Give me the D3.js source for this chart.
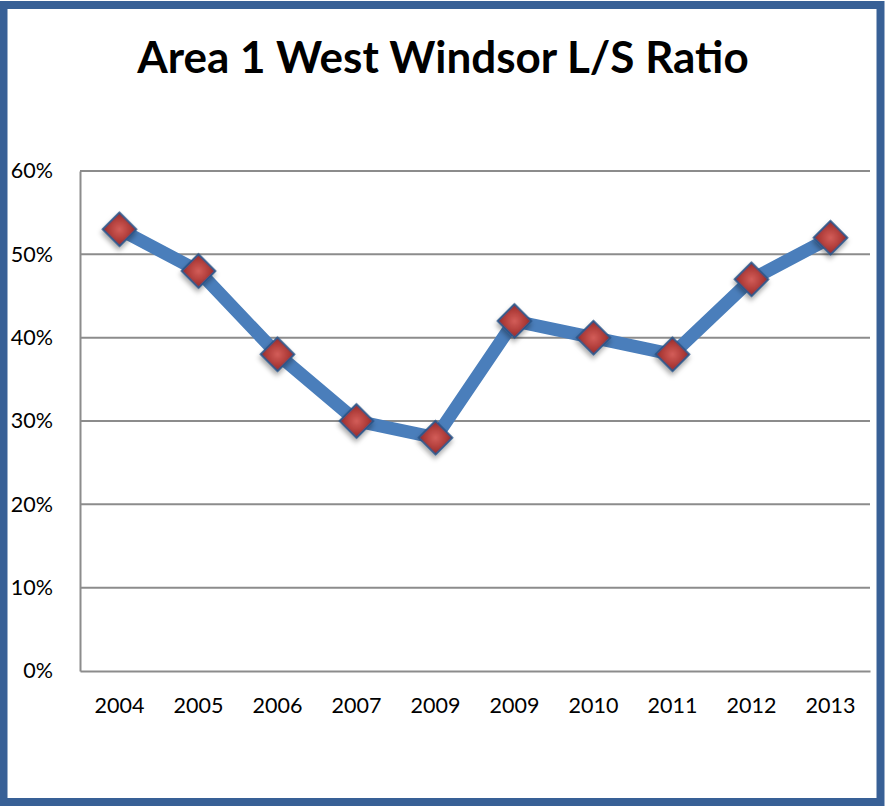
<!DOCTYPE html>
<html>
<head>
<meta charset="utf-8">
<script src="https://d3js.org/d3.v7.min.js"></script>
<style>
  body { margin: 0; background: #fff; }
  svg { display: block; }
</style>
</head>
<body>
<script>
// chart data
var years = ["2004", "2005", "2006", "2007", "2009", "2009", "2010", "2011", "2012", "2013"];
var ratios = [0.53, 0.48, 0.38, 0.30, 0.28, 0.42, 0.40, 0.38, 0.47, 0.52];
var yTicks = [0, 0.1, 0.2, 0.3, 0.4, 0.5, 0.6];
var title = "Area 1 West Windsor L/S Ratio";

var w = 885, h = 806;
var margin = {left: 80, right: 15, top: 171, bottom: 135};

var svg = d3.select("body").append("svg")
    .attr("width", w)
    .attr("height", h);

var defs = svg.append("defs");
var grad = defs.append("radialGradient")
    .attr("id", "mk")
    .attr("cx", "50%").attr("cy", "50%").attr("r", "60%");
grad.append("stop").attr("offset", "0%").attr("stop-color", "#d35d59");
grad.append("stop").attr("offset", "100%").attr("stop-color", "#a3312e");

var shadow = defs.append("filter").attr("id", "sh")
    .attr("x", "-50%").attr("y", "-50%").attr("width", "200%").attr("height", "200%");
shadow.append("feDropShadow")
    .attr("dx", 2).attr("dy", 3).attr("stdDeviation", 2.5)
    .attr("flood-color", "#000").attr("flood-opacity", 0.35);

// outer frame
svg.append("rect")
    .attr("x", 3.5).attr("y", 5).attr("width", w - 8).attr("height", h - 9)
    .attr("fill", "#fff")
    .attr("stroke", "#386096")
    .attr("stroke-width", 8);

svg.append("text")
    .attr("x", 443)
    .attr("y", 73)
    .attr("text-anchor", "middle")
    .attr("font-family", "Lato, 'Open Sans', sans-serif")
    .attr("font-weight", "bold")
    .attr("font-size", "44px")
    .text(title);

var x = d3.scaleBand()
    .domain(d3.range(years.length))
    .range([margin.left, w - margin.right]);

var y = d3.scaleLinear()
    .domain([0, 0.6])
    .range([h - margin.bottom, margin.top]);

var g = svg.append("g");

// gridlines
g.append("g")
    .selectAll("line")
    .data(yTicks.slice(1))
    .enter()
    .append("line")
    .attr("x1", margin.left)
    .attr("x2", w - margin.right)
    .attr("y1", d => y(d))
    .attr("y2", d => y(d))
    .attr("stroke", "#8c8c8c")
    .attr("stroke-width", 2);

// axes
var yAxis = d3.axisLeft(y).tickValues(yTicks).tickFormat(d3.format(".0%")).tickSize(0).tickPadding(27);
var gy = g.append("g").attr("transform", "translate(" + margin.left + ",0)").call(yAxis);
gy.select(".domain").attr("stroke", "#8c8c8c").attr("stroke-width", 2);

var xAxis = d3.axisBottom(x).tickFormat(i => years[i]).tickSize(0).tickPadding(27);
var gx = g.append("g").attr("transform", "translate(0," + y(0) + ")").call(xAxis);
gx.select(".domain").attr("stroke", "#8c8c8c").attr("stroke-width", 2);

svg.selectAll(".tick text")
    .attr("font-family", "Lato, 'Open Sans', sans-serif")
    .attr("font-size", "21.5px")
    .attr("fill", "#000");

// series line
var line = d3.line()
    .x((d, i) => x(i) + x.bandwidth() / 2)
    .y(d => y(d));

g.append("path")
    .datum(ratios)
    .attr("d", line)
    .attr("fill", "none")
    .attr("stroke", "#4a7ebb")
    .attr("stroke-width", 13)
    .attr("stroke-linejoin", "round");

// markers
var sym = d3.symbol().type(d3.symbolSquare).size(560);
g.append("g")
    .selectAll("path")
    .data(ratios)
    .enter()
    .append("path")
    .attr("d", sym)
    .attr("transform", (d, i) => "translate(" + (x(i) + x.bandwidth() / 2) + "," + y(d) + ") rotate(45)")
    .attr("fill", "url(#mk)")
    .attr("stroke", "#2c5587")
    .attr("stroke-width", 2)
    .attr("filter", "url(#sh)");
</script>
</body>
</html>
